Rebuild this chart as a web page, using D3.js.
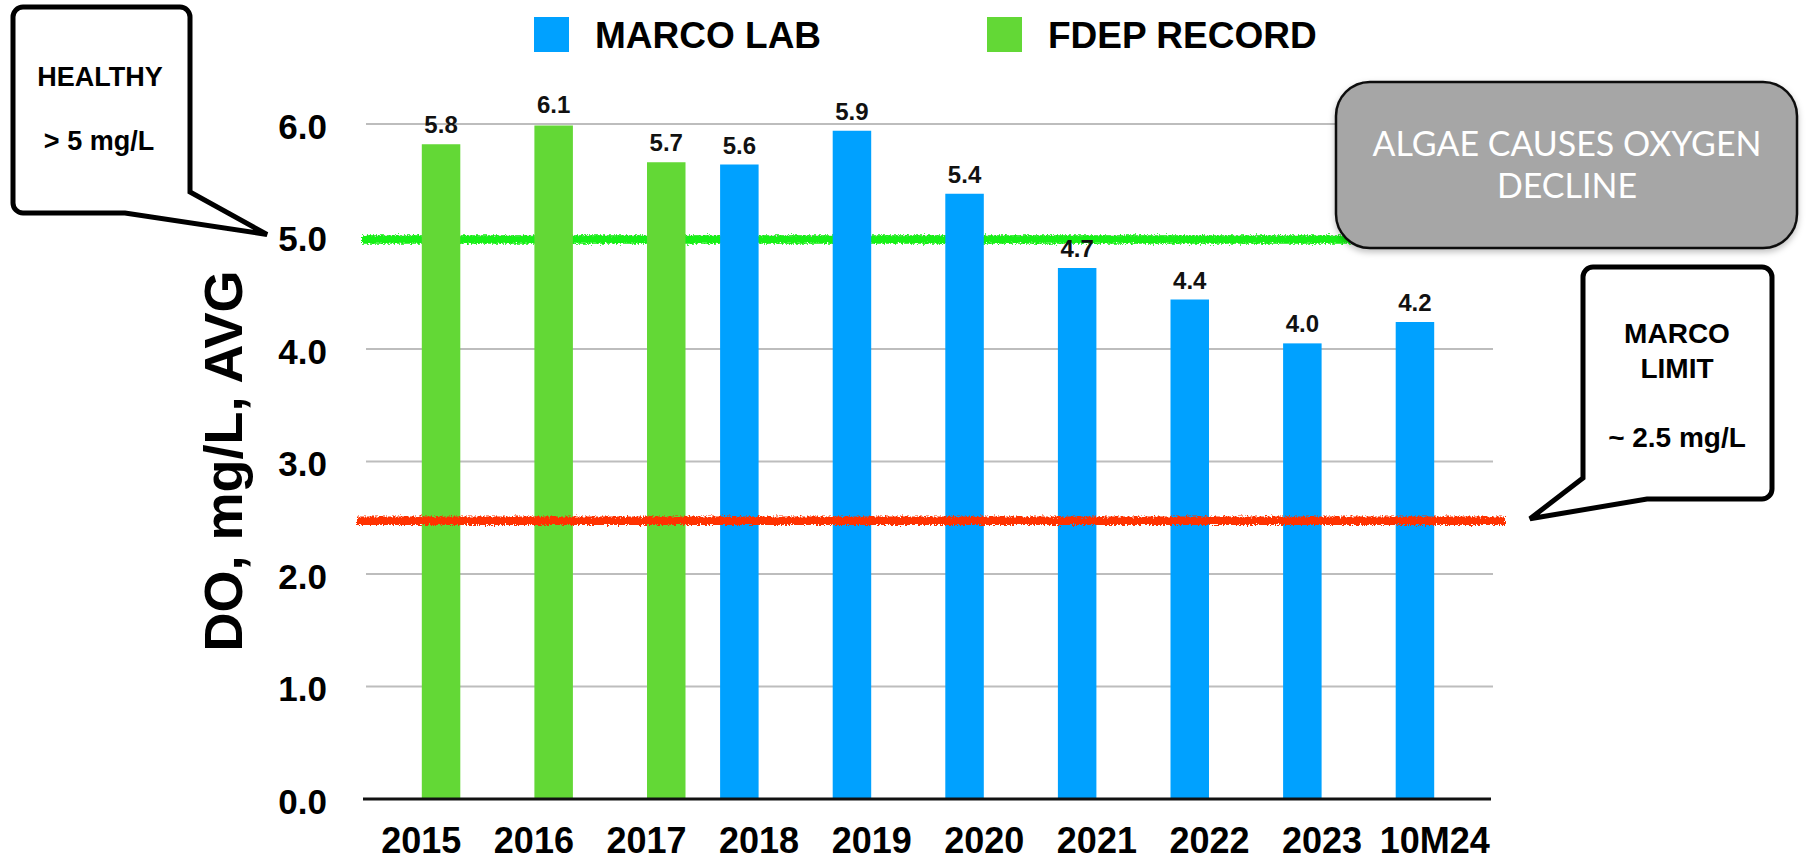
<!DOCTYPE html>
<html>
<head>
<meta charset="utf-8">
<script src="https://cdn.jsdelivr.net/npm/d3@7"></script>
<style>
  html, body { margin: 0; padding: 0; background: #fff; }
  svg { display: block; }
  text { font-family: "Liberation Sans", Arial, Helvetica, sans-serif; }
</style>
</head>
<body>
<svg id="chart" width="1806" height="862"></svg>
<script>
// ---------- data ----------
const categories = ["2015", "2016", "2017", "2018", "2019", "2020", "2021", "2022", "2023", "10M24"];
const seriesNames = ["MARCO LAB", "FDEP RECORD"];
const marcoLab = [null, null, null, 5.64, 5.94, 5.38, 4.72, 4.44, 4.05, 4.24];
const fdepRecord = [5.82, 6.1, 5.66, null, null, null, null, null, null, null];
const yTicks = [0, 1, 2, 3, 4, 5, 6];
const healthyLevel = 5.0;
const marcoLimit = 2.5;
const colors = { "MARCO LAB": "#00a1ff", "FDEP RECORD": "#63d836" };

// ---------- layout ----------
const svg = d3.select("#chart");
const W = 1806, H = 862;
const plot = { left: 365, right: 1491, top: 124, bottom: 799 };

const x = d3.scaleBand().domain(categories).range([plot.left, plot.right]).padding(0);
const bw = x.bandwidth();
const x1 = d3.scaleBand().domain(seriesNames).range([bw / 2 - 39.5, bw / 2 + 39.5]).padding(0);
const y = d3.scaleLinear().domain([0, 6]).range([plot.bottom, plot.top]);

const defs = svg.append("defs");
const rough = defs.append("filter").attr("id", "rough")
  .attr("filterUnits", "userSpaceOnUse")
  .attr("x", 0).attr("y", 0).attr("width", W).attr("height", H);
rough.append("feTurbulence").attr("type", "fractalNoise").attr("baseFrequency", "0.55")
  .attr("numOctaves", 2).attr("seed", 7).attr("result", "noise");
rough.append("feDisplacementMap").attr("in", "SourceGraphic").attr("in2", "noise")
  .attr("scale", 6).attr("xChannelSelector", "R").attr("yChannelSelector", "G");

const shadow = defs.append("filter").attr("id", "shadow")
  .attr("x", "-10%").attr("y", "-10%").attr("width", "120%").attr("height", "130%");
shadow.append("feDropShadow").attr("dx", 0).attr("dy", 3).attr("stdDeviation", 3)
  .attr("flood-color", "#000").attr("flood-opacity", 0.25);

const clip = defs.append("clipPath").attr("id", "plotclip");
clip.append("rect").attr("x", plot.left - 10).attr("y", y(6) + 1.5)
  .attr("width", plot.right - plot.left + 20).attr("height", y(0) - y(6));

// ---------- gridlines ----------
svg.append("g").selectAll("line").data(yTicks.filter(d => d > 0)).join("line")
  .attr("x1", plot.left + 1).attr("x2", plot.right + 2)
  .attr("y1", d => y(d)).attr("y2", d => y(d))
  .attr("stroke", "#bdbdbd").attr("stroke-width", 2);

// ---------- y tick labels ----------
svg.append("g").selectAll("text").data(yTicks).join("text")
  .attr("x", plot.left - 38).attr("y", d => y(d) + 2)
  .attr("text-anchor", "end").attr("dominant-baseline", "central")
  .attr("font-size", 35).attr("font-weight", "bold").attr("fill", "#000")
  .text(d => d3.format(".1f")(d));

// ---------- reference line (healthy) ----------
svg.append("line")
  .attr("x1", plot.left - 3).attr("x2", plot.right + 10)
  .attr("y1", y(healthyLevel) + 3).attr("y2", y(healthyLevel) + 3)
  .attr("stroke", "#14f014").attr("stroke-width", 8.5).attr("filter", "url(#rough)");

// ---------- bars ----------
const rows = [];
categories.forEach((c, i) => {
  if (marcoLab[i] != null) rows.push({ cat: c, series: "MARCO LAB", value: marcoLab[i] });
  if (fdepRecord[i] != null) rows.push({ cat: c, series: "FDEP RECORD", value: fdepRecord[i] });
});

const barW = x1.bandwidth() - 1;
svg.append("g").attr("clip-path", "url(#plotclip)").selectAll("rect").data(rows).join("rect")
  .attr("x", d => x(d.cat) + x1(d.series) + 0.5)
  .attr("width", barW)
  .attr("y", d => y(d.value))
  .attr("height", d => y(0) - y(d.value))
  .attr("fill", d => colors[d.series]);

svg.append("g").selectAll("text").data(rows).join("text")
  .attr("x", d => x(d.cat) + x1(d.series) + x1.bandwidth() / 2)
  .attr("y", d => y(Math.min(d.value, 6)) - 11)
  .attr("text-anchor", "middle")
  .attr("font-size", 24).attr("font-weight", "bold").attr("fill", "#111")
  .text(d => d3.format(".1f")(d.value));

// ---------- reference line (limit) ----------
svg.append("line")
  .attr("x1", plot.left - 8).attr("x2", plot.right + 14)
  .attr("y1", y(marcoLimit) + 3).attr("y2", y(marcoLimit) + 3)
  .attr("stroke", "#ff3300").attr("stroke-width", 8.5).attr("filter", "url(#rough)");

// ---------- x axis ----------
svg.append("line")
  .attr("x1", plot.left - 2).attr("x2", plot.right)
  .attr("y1", y(0)).attr("y2", y(0))
  .attr("stroke", "#111").attr("stroke-width", 3);

svg.append("g").selectAll("text").data(categories).join("text")
  .attr("x", d => x(d) + bw / 2)
  .attr("y", 853)
  .attr("text-anchor", "middle")
  .attr("font-size", 36).attr("font-weight", "bold").attr("fill", "#000")
  .text(d => d);

// ---------- y axis title ----------
svg.append("text")
  .attr("transform", "translate(242,461) rotate(-90)")
  .attr("text-anchor", "middle")
  .attr("font-size", 54).attr("font-weight", "bold").attr("fill", "#000")
  .text("DO, mg/L, AVG");

// ---------- legend ----------
const legendItems = [
  { name: "MARCO LAB", sx: 534, tx: 595 },
  { name: "FDEP RECORD", sx: 987, tx: 1048 }
];
const lg = svg.append("g");
lg.selectAll("rect").data(legendItems).join("rect")
  .attr("x", d => d.sx).attr("y", 17).attr("width", 35).attr("height", 35)
  .attr("fill", d => colors[d.name]);
lg.selectAll("text").data(legendItems).join("text")
  .attr("x", d => d.tx).attr("y", 48)
  .attr("font-size", 37).attr("font-weight", "bold").attr("fill", "#000")
  .text(d => d.name);

// ---------- callouts ----------
function callout(x0, y0, x1_, y1_, r, tail) {
  const p = d3.path();
  p.moveTo(x0 + r, y0);
  p.lineTo(x1_ - r, y0);
  p.arcTo(x1_, y0, x1_, y0 + r, r);
  if (tail.side === "right") {
    p.lineTo(x1_, tail.a);
    p.lineTo(tail.tip[0], tail.tip[1]);
    p.lineTo(tail.b, y1_);
    p.lineTo(x0 + r, y1_);
    p.arcTo(x0, y1_, x0, y1_ - r, r);
  } else {
    p.lineTo(x1_, y1_ - r);
    p.arcTo(x1_, y1_, x1_ - r, y1_, r);
    p.lineTo(tail.b, y1_);
    p.lineTo(tail.tip[0], tail.tip[1]);
    p.lineTo(x0, tail.a);
  }
  p.lineTo(x0, y0 + r);
  p.arcTo(x0, y0, x0 + r, y0, r);
  p.closePath();
  return p.toString();
}

const cg = svg.append("g");
cg.append("path")
  .attr("d", callout(13, 7, 190, 213, 10, { side: "right", a: 192, b: 125, tip: [267, y(healthyLevel) - 2] }))
  .attr("fill", "#fff").attr("stroke", "#000").attr("stroke-width", 5).attr("stroke-linejoin", "miter");
cg.append("text").attr("x", 100).attr("y", 86).attr("text-anchor", "middle")
  .attr("font-size", 27).attr("font-weight", "bold").text("HEALTHY");
cg.append("text").attr("x", 99).attr("y", 150).attr("text-anchor", "middle")
  .attr("font-size", 27).attr("font-weight", "bold").text("> 5 mg/L");

cg.append("path")
  .attr("d", callout(1583, 267, 1772, 499, 10, { side: "left", a: 478, b: 1647, tip: [1530, y(marcoLimit) + 1] }))
  .attr("fill", "#fff").attr("stroke", "#000").attr("stroke-width", 5).attr("stroke-linejoin", "miter");
[["MARCO", 343], ["LIMIT", 378], ["~ 2.5 mg/L", 447]].forEach(([t, yy]) => {
  cg.append("text").attr("x", 1677).attr("y", yy).attr("text-anchor", "middle")
    .attr("font-size", 28).attr("font-weight", "bold").text(t);
});

// gray note box
cg.append("rect")
  .attr("x", 1336).attr("y", 82).attr("width", 461).attr("height", 166)
  .attr("rx", 34).attr("ry", 34)
  .attr("fill", "#a6a6a6").attr("stroke", "#111").attr("stroke-width", 2.5)
  .attr("filter", "url(#shadow)");
const noteLines = [["ALGAE CAUSES OXYGEN", 156], ["DECLINE", 198]];
const noteTexts = noteLines.map(([t, yy]) => cg.append("text")
  .attr("x", 1567).attr("y", yy).attr("text-anchor", "middle")
  .style("font-family", "Lato, 'Open Sans', sans-serif")
  .attr("font-size", 36).attr("fill", "#fff").text(t));
const w0 = noteTexts[0].node().getComputedTextLength();
if (w0 > 0) {
  const fs = 36 * 389 / w0;
  noteTexts.forEach(t => t.attr("font-size", fs));
}
</script>
</body>
</html>
